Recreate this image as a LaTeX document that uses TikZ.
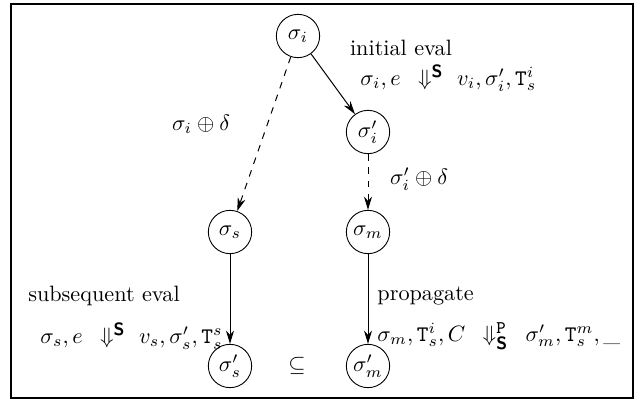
\documentclass[tikz,border=0pt]{standalone}
\usetikzlibrary{arrows.meta}
\newcommand{\bsS}{\mbox{\footnotesize\sffamily\bfseries S}}
\newcommand{\ttP}{\mbox{\footnotesize\ttfamily P}}
\begin{document}
\begin{tikzpicture}[x=0.45pt,y=-0.45pt,
  st/.style={draw,circle,minimum size=19.5pt,inner sep=0.5pt},
  arr/.style={-{Stealth[length=6pt,width=3.6pt]},line width=0.45pt},
  lbl/.style={inner sep=0pt}]
\useasboundingbox (0,0) rectangle (643,403);
\draw[line width=0.6pt] (11,4) rectangle (633,398);
\node[st] (si)  at (298,36)  {$\sigma_i$};
\node[st] (sip) at (368,132) {$\sigma'_i$};
\node[st] (ss)  at (230,232) {$\sigma_s$};
\node[st] (sm)  at (368,232) {$\sigma_m$};
\node[st] (ssp) at (230,366) {$\sigma'_s$};
\node[st] (smp) at (368,366) {$\sigma'_m$};
\node[lbl] (sub) at (297,366) {$\subseteq$};
\draw[arr,dashed] (si) -- (ss);
\draw[arr] (si) -- (sip);
\draw[arr,dashed] (sip) -- (sm);
\draw[arr] (ss) -- (ssp);
\draw[arr] (sm) -- (smp);
\node[lbl] (ie) at (401,48) {initial eval};
\node[lbl,anchor=west] (ief) at (360,78) {$\sigma_i, e\ \,\Downarrow^{\bsS}\ v_i, \sigma'_i, \mathtt{T}^i_s$};
\node[lbl] (d1) at (201,124) {$\sigma_i \oplus \delta$};
\node[lbl] (d2) at (419,179) {$\sigma'_i \oplus \delta$};
\node[lbl] (se) at (104,296) {subsequent eval};
\node[lbl,anchor=east] (sef) at (223,336) {$\sigma_s, e\ \,\Downarrow^{\bsS}\ v_s, \sigma'_s, \mathtt{T}^s_s$};
\node[lbl,anchor=west] (pr) at (377,296) {propagate};
\node[lbl,anchor=west] (prf) at (377,336) {$\sigma_m, \mathtt{T}^i_s, C\ \,\Downarrow^{\ttP}_{\bsS}\ \,\sigma'_m, \mathtt{T}^m_s, \_$};
\end{tikzpicture}
\end{document}
